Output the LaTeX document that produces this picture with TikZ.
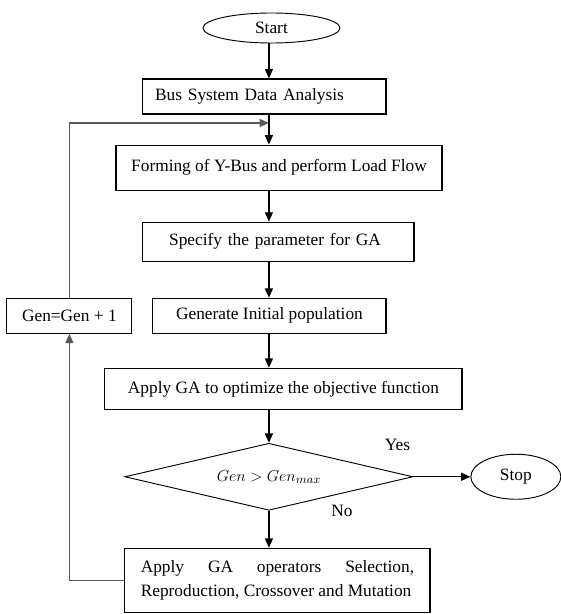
\documentclass[tikz,border=0pt]{standalone}
\usepackage{fontspec}
\setmainfont{Liberation Serif}
\usepackage{amsmath}
\usetikzlibrary{shapes.geometric, arrows.meta, positioning, calc}

\begin{document}
\begin{tikzpicture}[
    font=\fontsize{13pt}{17.5pt}\selectfont,
    terminal/.style={ellipse, draw=black, line width=0.7pt, inner sep=0pt},
    process/.style={rectangle, draw=black, line width=0.8pt, minimum height=26.25pt, inner sep=0pt},
    decision/.style={diamond, draw=black, line width=0.7pt, inner sep=0pt, aspect=4.3, minimum width=216pt, minimum height=50.25pt},
    arrow/.style={-{Triangle[length=7pt, width=6pt]}, line width=0.9pt},
    loopback/.style={-{Triangle[length=7pt, width=6pt]}, line width=0.9pt, draw=black!65}
]
    \useasboundingbox (-203.6pt,21pt) rectangle (217.1pt,-439.5pt);

    \node[terminal, minimum width=102.75pt, minimum height=22.5pt] (start) {Start};
    \node[process, below=26.25pt of start, xshift=-5.25pt, minimum width=182.25pt, text width=164pt, align=left] (bus) {Bus System Data Analysis};
    \node[process, below=22.5pt of bus, xshift=10.9pt, minimum width=244.5pt, minimum height=33.75pt] (forming) {Forming of Y-Bus and perform Load Flow};
    \node[process, below=23.25pt of forming, xshift=-0.4pt, minimum width=203.25pt, minimum height=29.25pt, text width=164pt, align=left] (specify) {Specify the parameter for GA};
    \node[process, below=27pt of specify, xshift=-6.75pt, minimum width=174.75pt] (initpop) {Generate Initial population};
    \node[process, left=15pt of initpop, minimum width=93.75pt] (gen) {Gen=Gen + 1};
    \node[process, below=25.5pt of initpop, xshift=10.5pt, minimum width=267.75pt, minimum height=30.75pt] (applyga) {Apply GA to optimize the objective function};
    \node[decision, below=24.75pt of applyga, xshift=-10.9pt] (check) {$Gen > Gen_{max}$};
    \node[terminal, right=42.75pt of check, minimum width=67.5pt, minimum height=33.75pt] (stop) {Stop};
    \node[process, below=27.75pt of check, xshift=6.4pt, minimum width=228.75pt, minimum height=48pt, align=left] (operators) {\makebox[205pt][s]{Apply GA operators Selection,}\\Reproduction, Crossover and Mutation};

    \node (yes) at ([shift={(-12pt,23.6pt)}]check.east) {Yes};
    \node (no) at ([xshift=54.75pt]check.south) {No};

    % where the loop joins the main line
    \coordinate (merge) at ($(bus.south -| check)!0.28!(forming.north -| check)$);

    \draw[arrow] (start.south -| check) -- (bus.north -| check);
    \draw[arrow] (bus.south -| check) -- (forming.north -| check);
    \draw[arrow] (forming.south -| check) -- (specify.north -| check);
    \draw[arrow] (specify.south -| check) -- (initpop.north -| check);
    \draw[arrow] (initpop.south -| check) -- (applyga.north -| check);
    \draw[arrow] (applyga.south -| check) -- (check);
    \draw[arrow] (check) -- (stop);
    \draw[arrow] (check) -- (operators.north -| check);

    % Loop back for the next generation
    \draw[loopback] (operators.west) -| (gen.south);
    \draw[loopback] (gen.north) |- (merge);
\end{tikzpicture}
\end{document}
